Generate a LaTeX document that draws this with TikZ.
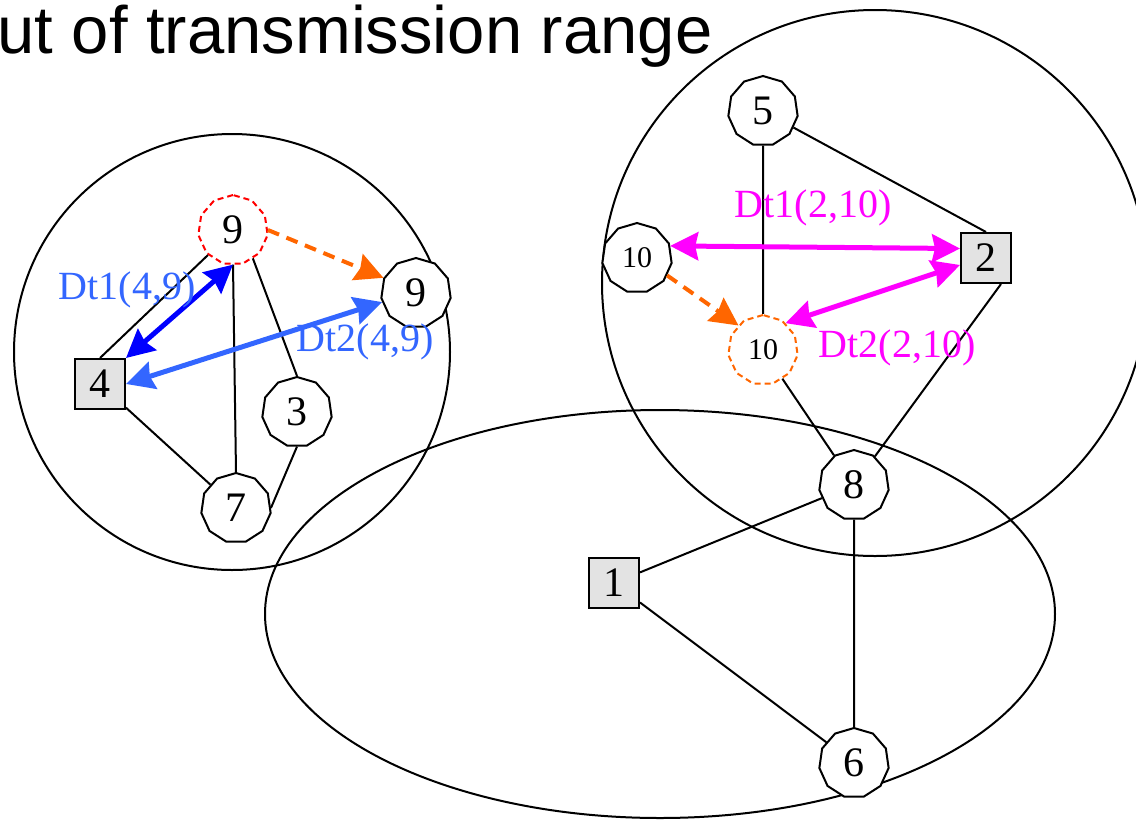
\documentclass[tikz,border=0pt]{standalone}
\usepackage{fontspec}
\setmainfont{Liberation Serif}
\newfontfamily\titlefont{Liberation Sans}
\usetikzlibrary{shapes.geometric,arrows.meta}
\definecolor{ghostred}{HTML}{FF0000}
\definecolor{moveorange}{HTML}{FF6600}
\definecolor{dtblue}{HTML}{0000FF}
\definecolor{dtlight}{HTML}{3366FF}
\definecolor{dtpink}{HTML}{FF00FF}

\begin{document}
\begin{tikzpicture}[
    x=0.5pt, y=-0.5pt,
    station/.style={regular polygon, regular polygon sides=11, draw=black,
        line width=1pt, fill=white, minimum size=35pt, inner sep=0pt,
        font=\fontsize{21}{21}\selectfont},
    small/.style={font=\fontsize{15}{15}\selectfont},
    ghost/.style={station, dash pattern=on 3pt off 2pt},
    gateway/.style={rectangle, draw=black, line width=1pt, fill=black!11,
        minimum size=25pt, inner sep=0pt, font=\fontsize{21}{21}\selectfont},
    radiorange/.style={line width=1pt},
    edge/.style={line width=1pt, -},
    link/.style={line width=2.5pt,
        {Stealth[length=14pt,width=14pt,inset=1.5pt]}-{Stealth[length=14pt,width=14pt,inset=1.5pt]}},
    move/.style={line width=2pt, moveorange, dash pattern=on 6pt off 4pt,
        -{Stealth[length=14pt,width=14pt,inset=1.5pt]}},
    dtlabel/.style={inner sep=0pt, font=\fontsize{20}{20}\selectfont}
]
    \useasboundingbox (0,0) rectangle (1136,820);
    \node[anchor=base west, inner sep=0pt, font=\titlefont\fontsize{33.5}{34}\selectfont]
        (title) at (-3,53) {ut of transmission range};
    \draw[radiorange] (232,352) circle (218);
    \draw[radiorange] (875,283) circle (273);
    \draw[radiorange] (660,614) ellipse (395 and 204);
    \node[ghost, draw=ghostred] (n9) at (233,230) {9};
    \node[station] (n9b) at (416,293) {9};
    \node[gateway] (n4) at (100,384) {4};
    \node[station] (n3) at (297,412) {3};
    \node[station] (n7) at (236,508) {7};
    \node[station] (n5) at (763,111) {5};
    \node[station, small] (n10) at (637,258) {10};
    \node[ghost, small, draw=moveorange] (n10b) at (763,350) {10};
    \node[gateway] (n2) at (986,258) {2};
    \node[station] (n8) at (854,485) {8};
    \node[gateway] (n1) at (614,583) {1};
    \node[station] (n6) at (854,763) {6};
    \draw[edge] (n4.north) -- (n9.south west);
    \draw[edge] (n9.south) -- (n7.north);
    \draw[edge] (n9.-55) -- (n3.north);
    \draw[edge] (n4) -- (n7);
    \draw[edge] (n3.south) -- (n7.east);
    \draw[edge] (n5.south) -- (n10b.north);
    \draw[edge] (n5) -- (n2.north);
    \draw[edge] (n10b) -- (n8);
    \draw[edge] (n2.-60) -- (n8);
    \draw[edge] (n8) -- (n1);
    \draw[edge] (n1) -- (n6);
    \draw[edge] (n8.south) -- (n6.north);
    \draw[link, dtblue] (n4.north east) -- (n9.south);
    \draw[link, dtlight] (n4.east) -- (n9b.195);
    \draw[move] (n9.east) -- (n9b.155);
    \draw[link, dtpink] (n10.20) -- (n2.160);
    \draw[link, dtpink] (n2.195) -- (n10b.50);
    \draw[move] (n10.-30) -- (n10b.135);
    \node[dtlabel, dtlight] (dt1a) at (127,290) {Dt1(4,9)};
    \node[dtlabel, dtlight] (dt2a) at (365,342) {Dt2(4,9)};
    \node[dtlabel, dtpink] (dt1b) at (813,208) {Dt1(2,10)};
    \node[dtlabel, dtpink] (dt2b) at (897,348) {Dt2(2,10)};
\end{tikzpicture}
\end{document}
